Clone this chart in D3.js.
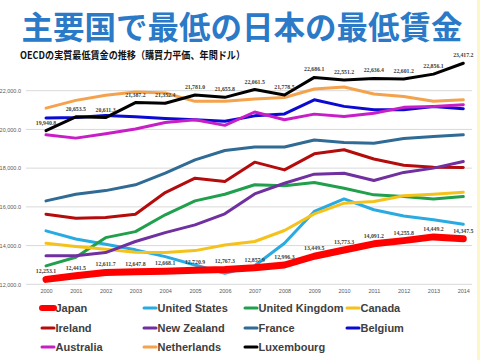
<!DOCTYPE html>
<html><head><meta charset="utf-8">
<script src="https://cdn.jsdelivr.net/npm/d3@7"></script>
<style>html,body{margin:0;padding:0;background:#fff;}svg{display:block;}</style>
</head><body>
<svg id="c" width="480" height="360"></svg>
<script>
const years = [2000,2001,2002,2003,2004,2005,2006,2007,2008,2009,2010,2011,2012,2013,2014];
const yTicks = [12000,14000,16000,18000,20000,22000];
const japan = [12253.1,12441.5,12611.7,12647.8,12668.1,12720.9,12767.3,12857.9,12996.3,13449.5,13773.3,14091.2,14255.8,14449.2,14347.5];
const unitedStates = [14760,14340,14070,13780,13430,13000,12570,12960,14120,15760,16410,15850,15530,15330,15100];
const unitedKingdom = [12950,13400,14410,14720,15590,16310,16650,17140,17090,17260,16960,16620,16530,16410,16530];
const canada = [14120,13950,13810,13650,13640,13740,14030,14210,14780,15640,16190,16280,16570,16650,16760];
const ireland = [15620,15410,15450,15620,16740,17480,17310,18310,17910,18740,18950,18470,18150,18050,18030];
const newZealand = [13480,13480,13640,14210,14670,15070,15640,16670,17220,17690,17740,17360,17780,18000,18340];
const france = [16310,16650,16840,17140,17740,18430,18910,19090,19090,19450,19330,19290,19530,19640,19720];
const belgium = [20590,20620,20720,20650,20560,20500,20420,20700,20800,21530,21190,21020,21020,21180,21070];
const australia = [19720,19550,19780,20020,20360,20500,20210,20900,20500,20790,20670,20840,21140,21190,21280];
const netherlands = [21100,21500,21760,21930,21880,21450,21450,21570,21650,22090,22190,21830,21700,21450,21530];
const luxembourg = [19940.8,20653.5,20611.3,21387.2,21352.4,21781.0,21655.8,22061.5,21778.5,22686.1,22551.2,22636.4,22601.2,22856.1,23417.2];

const seriesNames = ["Japan","United States","United Kingdom","Canada","Ireland","New Zealand","France","Belgium","Australia","Netherlands","Luxembourg"];
const seriesValues = [japan,unitedStates,unitedKingdom,canada,ireland,newZealand,france,belgium,australia,netherlands,luxembourg];
const seriesColors = ["#ff0000","#29abe2","#20a04c","#f5c21b","#b40c0c","#7030a0","#2f6b94","#0a0ad2","#c81ec8","#f5a24c","#000000"];
const seriesWidths = [7,3,3,3,3,3,3,3,3,3,3];

const svg = d3.select("#c");
svg.append("rect").attr("width",480).attr("height",360).attr("fill","#ffffff");
svg.append("rect").attr("x",477).attr("y",0).attr("width",3).attr("height",360).attr("fill","#fdf6c8");

// Title
svg.append("text").attr("x",242).attr("y",39).attr("text-anchor","middle")
  .attr("font-family","'Noto Sans CJK JP'").attr("font-weight","bold").attr("font-size",31.5)
  .attr("fill","#2b7ac8").text("主要国で最低の日本の最低賃金");
svg.append("text").attr("x",20).attr("y",59)
  .attr("font-family","'Noto Sans CJK JP'").attr("font-weight","bold").attr("font-size",10.5)
  .attr("fill","#111").attr("textLength",225).attr("lengthAdjust","spacingAndGlyphs")
  .text("OECDの実質最低賃金の推移（購買力平価、年間ドル）");

const x = d3.scaleLinear().domain([2000,2014]).range([46,463.3]);
const y = d3.scaleLinear().domain([12000,22000]).range([284.3,90.7]);

// Grid
const grid = svg.append("g");
grid.selectAll("line").data(yTicks).join("line")
  .attr("x1",26).attr("x2",472).attr("y1",d=>y(d)).attr("y2",d=>y(d))
  .attr("stroke","#d9d9d9").attr("stroke-width",1);

// Y axis
const yAxis = svg.append("g").attr("transform","translate(22,0)")
  .call(d3.axisLeft(y).tickValues(yTicks).tickSize(0).tickPadding(1).tickFormat(d=>d3.format(",.1f")(d)));
yAxis.select(".domain").remove();
yAxis.selectAll("text").attr("font-family","'Liberation Sans'").attr("font-size",5.5).attr("fill","#595959");

// X axis
const xAxis = svg.append("g").attr("transform","translate(0,289)")
  .call(d3.axisBottom(x).tickValues(years).tickSize(0).tickPadding(0).tickFormat(d3.format("d")));
xAxis.select(".domain").remove();
xAxis.selectAll("text").attr("font-family","'Liberation Sans'").attr("font-size",5.5).attr("fill","#595959");

// Lines
const line = d3.line().x((d,i)=>x(years[i])).y(d=>y(d));
const order = [1,2,3,4,5,6,7,8,9,0,10];
svg.append("g").selectAll("path").data(order).join("path")
  .attr("d",k=>line(seriesValues[k]))
  .attr("fill","none").attr("stroke",k=>seriesColors[k]).attr("stroke-width",k=>seriesWidths[k])
  .attr("stroke-linejoin","round").attr("stroke-linecap","round");

// Data labels
const fmt = d3.format(",.1f");
function labels(vals, dy){
  svg.append("g").selectAll("text").data(vals).join("text")
    .attr("x",(d,i)=>x(years[i])).attr("y",d=>y(d)+dy).attr("text-anchor","middle")
    .attr("font-family","'Liberation Serif'").attr("font-weight","bold").attr("font-size",5.8)
    .attr("fill","#404040").text(d=>fmt(d));
}
labels(japan,-6);
labels(luxembourg,-6);

// Legend
const legCols = [40,142,243,345];
const legRows = [308,328,347];
const leg = svg.append("g");
seriesNames.forEach((n,i)=>{
  const cx = legCols[i%4], cy = legRows[Math.floor(i/4)];
  leg.append("line").attr("x1",cx+2).attr("x2",cx+14).attr("y1",cy).attr("y2",cy)
    .attr("stroke",seriesColors[i]).attr("stroke-width",i===0?6:3).attr("stroke-linecap","round");
  leg.append("text").attr("x",cx+15.5).attr("y",cy+4).attr("font-family","'Liberation Sans'")
    .attr("font-weight","bold").attr("font-size",11).attr("fill","#404040").text(n);
});
</script>
</body></html>
